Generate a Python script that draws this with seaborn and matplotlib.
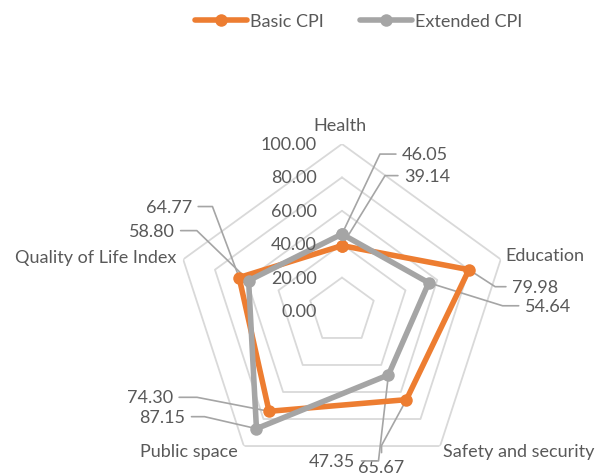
import numpy as np
import pandas as pd
import matplotlib
matplotlib.use("Agg")
import matplotlib.pyplot as plt
from matplotlib.lines import Line2D
import seaborn as sns

# datos del radar
categories = ["Health", "Education", "Safety and security", "Public space", "Quality of Life Index"]
basic_cpi = [39.14, 79.98, 65.67, 74.30, 64.77]
extended_cpi = [46.05, 54.64, 47.35, 87.15, 58.80]
series_names = ["Basic CPI", "Extended CPI"]
ring_values = [20, 40, 60, 80, 100]
tick_values = [0, 20, 40, 60, 80, 100]

ORANGE = "#ED7D31"
GRAY = "#A5A5A5"
TEXT = "#595959"
GRID = "#D9D9D9"

sns.set_style("white")
plt.rcParams["font.family"] = ["Lato", "DejaVu Sans"]
FS = 13

n = len(categories)
theta = [2 * np.pi * i / n for i in range(n)]
theta_closed = theta + theta[:1]

rows = []
for name, vals in zip(series_names, [basic_cpi, extended_cpi]):
    for t, v in zip(theta_closed, vals + vals[:1]):
        rows.append({"theta": t, "value": v, "series": name})
df = pd.DataFrame(rows)

fig = plt.figure(figsize=(6.01, 4.77), dpi=100)
ax = fig.add_axes([0.291, -0.004, 0.556, 0.700], projection="polar")
ax.set_theta_offset(np.pi / 2)
ax.set_theta_direction(-1)

# anillos pentagonales
for v in ring_values:
    ax.plot(theta_closed, [v] * (n + 1), color=GRID, lw=1.3, zorder=1)

sns.lineplot(data=df, x="theta", y="value", hue="series", hue_order=series_names,
             palette=[ORANGE, GRAY], sort=False, estimator=None, marker="o",
             markersize=9, markeredgewidth=0, linewidth=4, legend=False, ax=ax,
             zorder=3)

ax.set_ylim(0, 100)
ax.grid(False)
ax.spines["polar"].set_visible(False)
ax.set_xticks([])
ax.set_yticks([])
ax.set_xlabel("")
ax.set_ylabel("")

# etiquetas del eje radial
for v in tick_values:
    ax.annotate(f"{v:.2f}", xy=(0, v), xytext=(-25, 0), textcoords="offset pixels",
                ha="right", va="center", fontsize=FS, color=TEXT)

# etiquetas de categorias
cat_pos = [((-2, 19), "center"), ((5, 4), "left"), ((3, -5), "left"),
           ((-6, -5), "right"), ((-7, 2), "right")]
for t, name, (off, ha) in zip(theta, categories, cat_pos):
    ax.annotate(name, xy=(t, 100), xytext=off, textcoords="offset pixels",
                ha=ha, va="center", fontsize=FS, color=TEXT)

# etiquetas de datos con lineas guia
basic_lbl = [((62, 70), "left", 0, 58.4), ((43, -17), "left", 0, -33),
             ((-48, -67), "left", 90, 61.5), ((-96, 14), "right", 0, 169),
             ((-47, 71), "right", 0, 110.6)]
ext_lbl = [((60, 80), "left", 0, 64.6), ((96, -23), "left", 0, -17.3),
           ((-33, -86), "right", 0, 83.4), ((-71, 12), "right", 0, 167),
           ((-74, 50), "right", 0, 136)]
for vals, lbls in [(basic_cpi, basic_lbl), (extended_cpi, ext_lbl)]:
    for t, v, (off, ha, a_a, a_b) in zip(theta, vals, lbls):
        ax.annotate(f"{v:.2f}", xy=(t, v), xytext=off, textcoords="offset pixels",
                    ha=ha, va="center", fontsize=FS, color=TEXT, zorder=2,
                    arrowprops=dict(arrowstyle="-", color=GRAY, lw=1.2,
                                    shrinkA=2, shrinkB=0,
                                    connectionstyle=f"angle,angleA={a_a},angleB={a_b},rad=0"))

handles = [Line2D([0], [0], color=c, lw=4, marker="o", markersize=9, markeredgewidth=0)
           for c in [ORANGE, GRAY]]
leg = fig.legend(handles, series_names, loc="center", bbox_to_anchor=(0.596, 0.953),
                 ncol=2, frameon=False, fontsize=FS, handlelength=2.9,
                 handletextpad=0.15, columnspacing=2.0)
for txt in leg.get_texts():
    txt.set_color(TEXT)

plt.savefig("out.png", dpi=100)
